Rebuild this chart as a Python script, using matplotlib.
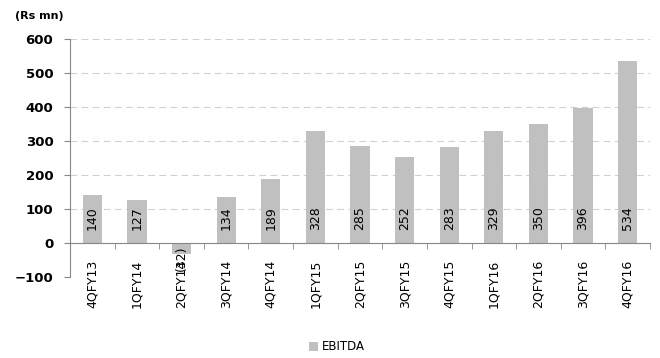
import numpy as np
import matplotlib.pyplot as plt

quarters = ['4QFY13', '1QFY14', '2QFY14', '3QFY14', '4QFY14', '1QFY15', '2QFY15',
            '3QFY15', '4QFY15', '1QFY16', '2QFY16', '3QFY16', '4QFY16']
ebitda = [140, 127, -32, 134, 189, 328, 285, 252, 283, 329, 350, 396, 534]

plt.rcParams['font.family'] = 'DejaVu Sans'

fig = plt.figure(figsize=(6.6, 3.58), dpi=100)
ax = fig.add_axes([70 / 660, 1 - 277 / 358, 580 / 660, 238 / 358])

x = np.arange(len(quarters))
bars = ax.bar(x, ebitda, width=0.43, color='#c0c0c0', label='EBITDA', zorder=2)

ax.set_xlim(-0.5, len(quarters) - 0.5)
ax.set_ylim(-100, 600)
ax.set_yticks(range(-100, 601, 100))
ax.tick_params(axis='y', labelsize=9.5, length=4, color='#888888', pad=8)
for t in ax.get_yticklabels():
    t.set_fontweight('bold')
ax.grid(axis='y', color='#d0d0d0', linestyle=(0, (6, 4)), linewidth=0.8, zorder=0)

# category axis sits on the zero line, ticks between bars
ax.spines['bottom'].set_position(('data', 0))
ax.spines['top'].set_visible(False)
ax.spines['right'].set_visible(False)
for s in ('left', 'bottom'):
    ax.spines[s].set_color('#888888')
ax.set_xticks(np.arange(-0.5, len(quarters), 1), minor=True)
ax.set_xticks(x)
ax.set_xticklabels(quarters, rotation=90, fontsize=9)
ax.tick_params(axis='x', which='major', length=0, pad=12)
ax.tick_params(axis='x', which='minor', length=4, color='#888888', direction='out')

for xi, v in zip(x, ebitda):
    txt = f'({abs(v)})' if v < 0 else str(v)
    if v >= 0:
        ax.annotate(txt, (xi, 0), xytext=(0, 9), textcoords='offset points',
                    rotation=90, ha='center', va='bottom', fontsize=9, zorder=3)
    else:
        ax.annotate(txt, (xi, v / 2), xytext=(0, 2), textcoords='offset points',
                    rotation=90, ha='center', va='top', fontsize=9, zorder=3)

fig.text(15 / 660, 1 - 16 / 358, '(Rs mn)', fontsize=8, fontweight='bold', va='center')
fig.legend(handles=[bars], loc='center', bbox_to_anchor=(0.51, 1 - 347 / 358),
           frameon=False, fontsize=8.5, handlelength=0.8, handleheight=0.8,
           handletextpad=0.3)

fig.savefig('out.png', dpi=100)
